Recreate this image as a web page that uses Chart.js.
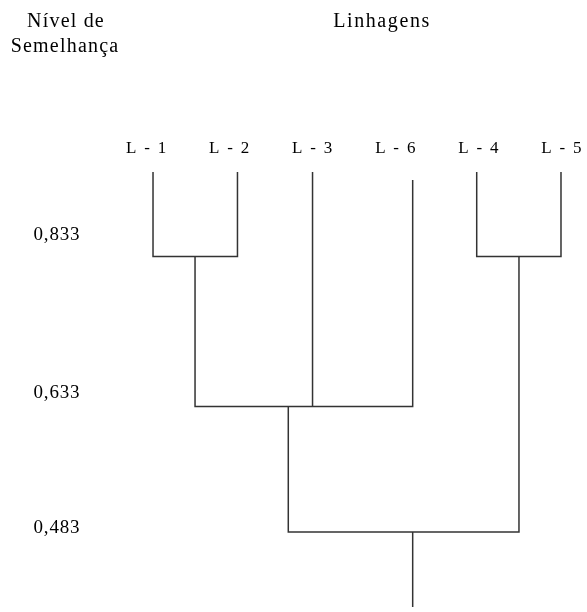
<!DOCTYPE html>
<html>
<head>
<meta charset="utf-8">
<script src="https://cdn.jsdelivr.net/npm/chart.js@4"></script>
<style>
  html, body { margin: 0; padding: 0; background: #fff; }
  #wrap { width: 587px; height: 612px; }
</style>
</head>
<body>
<div id="wrap"><canvas id="dendro" width="587" height="612"></canvas></div>
<script>
  // leaves, in the order they are drawn
  const leafNames = ["L - 1", "L - 2", "L - 3", "L - 6", "L - 4", "L - 5"];
  const leafX = [1.072, 2.089, 2.993, 4.199, 4.97, 5.985];
  const leafTop = [3.563, 3.563, 3.563, 3.51, 3.563, 3.563];
  const leafLabelX = [1, 2, 3, 4, 5, 6];

  // similarity levels (y axis ticks) and where they sit on the drawing
  const similarity = [0.833, 0.633, 0.483];
  const levelY = [3, 2, 1.163];
  const levelLabelY = [3.11, 2.057, 1.157];

  // merges: node ids 0-5 are leaves, 6.. are merges in this order
  const mergeMembers = [[0, 1], [4, 5], [6, 2, 3], [8, 7]];
  const mergeLevel = [0, 0, 1, 2];
  const mergeStemX = [1.578, 5.479, 2.701, 4.199];
  const rootEnd = 0.663;

  const lineColor = "#333";
  const font = "Liberation Serif, Times New Roman, serif";

  const nodeX = id => (id < leafX.length ? leafX[id] : mergeStemX[id - leafX.length]);
  const nodeTop = id =>
    id < leafX.length ? leafTop[id] : levelY[mergeLevel[id - leafX.length]];

  function seg(points) {
    return {
      data: points,
      showLine: true,
      borderColor: lineColor,
      borderWidth: 1.5,
      borderJoinStyle: "miter",
      pointRadius: 0,
      fill: false,
    };
  }

  const datasets = [];
  mergeMembers.forEach((members, m) => {
    const y = levelY[mergeLevel[m]];
    const sorted = members.slice().sort((a, b) => nodeX(a) - nodeX(b));
    const first = sorted[0];
    const last = sorted[sorted.length - 1];
    // U shape: down from first child, across, up to last child
    datasets.push(
      seg([
        { x: nodeX(first), y: nodeTop(first) },
        { x: nodeX(first), y: y },
        { x: nodeX(last), y: y },
        { x: nodeX(last), y: nodeTop(last) },
      ])
    );
    sorted.slice(1, -1).forEach(id => {
      datasets.push(
        seg([
          { x: nodeX(id), y: nodeTop(id) },
          { x: nodeX(id), y: y },
        ])
      );
    });
  });
  // root stem
  const rootId = leafX.length + mergeMembers.length - 1;
  datasets.push(
    seg([
      { x: nodeX(rootId), y: nodeTop(rootId) },
      { x: nodeX(rootId), y: rootEnd },
    ])
  );

  const textPlugin = {
    id: "dendroText",
    afterDraw(chart) {
      const { ctx, scales } = chart;
      const px = v => scales.x.getPixelForValue(v);
      const py = v => scales.y.getPixelForValue(v);
      const put = (text, x, y, size, spacing) => {
        ctx.font = size + "px " + font;
        if ("letterSpacing" in ctx) ctx.letterSpacing = spacing + "px";
        const w = ctx.measureText(text).width;
        ctx.fillText(text, x - w / 2, y);
      };
      ctx.save();
      ctx.fillStyle = "#000";
      ctx.textAlign = "left";
      ctx.textBaseline = "alphabetic";

      // headers
      put("Nível de", px(0.024), py(4.53), 20, 1.2);
      put("Semelhança", px(0.012), py(4.363), 20, 1.2);
      put("Linhagens", px(3.83), py(4.533), 20, 1.6);

      // leaf labels
      leafNames.forEach((name, i) => {
        put(name, px(leafLabelX[i]), py(3.69), 17, 1.8);
      });

      // similarity labels
      similarity.forEach((s, i) => {
        put(s.toFixed(3).replace(".", ","), px(-0.085), py(levelLabelY[i]), 19, 0.8);
      });
      ctx.restore();
    },
  };

  new Chart(document.getElementById("dendro"), {
    type: "scatter",
    data: { datasets },
    options: {
      responsive: false,
      animation: false,
      devicePixelRatio: 1,
      layout: { padding: { left: 64, right: 4, top: 0, bottom: 0 } },
      plugins: { legend: { display: false }, tooltip: { enabled: false } },
      scales: {
        x: { type: "linear", min: 0, max: 6.25, display: false },
        y: { type: "linear", min: 0.63, max: 4.71, display: false },
      },
    },
    plugins: [textPlugin],
  });
</script>
</body>
</html>
